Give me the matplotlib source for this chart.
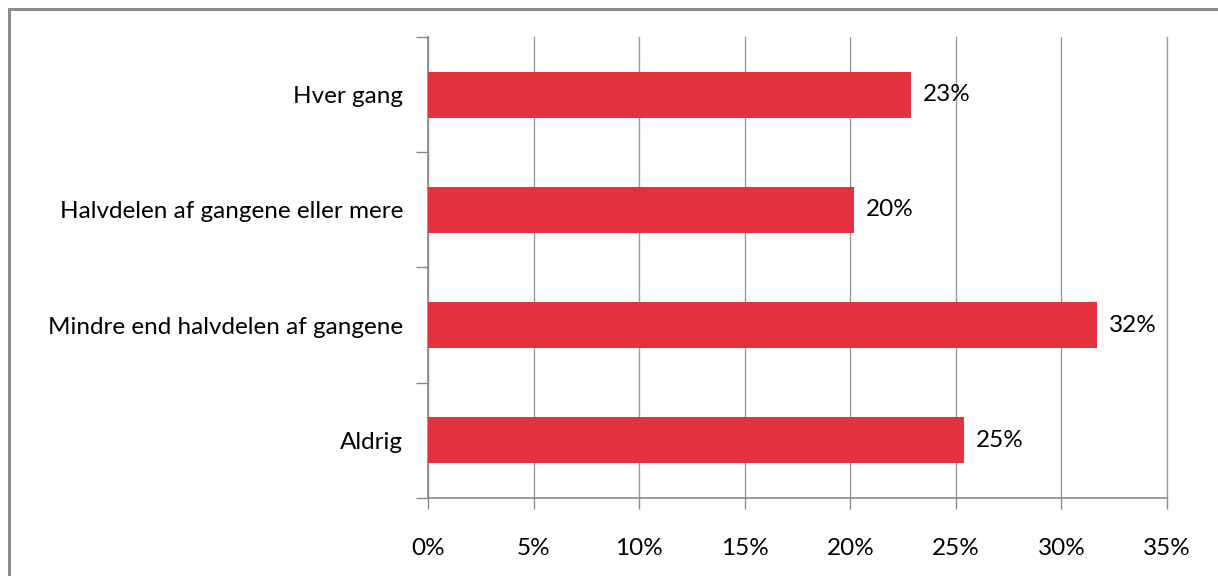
import matplotlib.pyplot as plt
from matplotlib.patches import Rectangle
from matplotlib.ticker import MultipleLocator, FuncFormatter

# data
#
categories = ['Hver gang', 'Halvdelen af gangene eller mere',
              'Mindre end halvdelen af gangene', 'Aldrig']
shares = [22.9, 20.2, 31.7, 25.4]

plt.rcParams['font.family'] = ['Lato', 'DejaVu Sans']
fs = 17.5

# plot
#
fig = plt.figure(figsize=(12.18, 5.76), dpi=100)
ax = fig.add_axes([0.3514, 0.1354, 0.6067, 0.8004])

pos = list(range(len(categories)))[::-1]
ax.barh(pos, shares, height=0.4, color='#E3323F', zorder=3)

for p, v in zip(pos, shares):
    ax.text(v + 0.55, p, f'{v:.0f}%', va='center', ha='left', fontsize=fs)

ax.set_xlim(0, 35)
ax.set_ylim(-0.5, 3.5)
ax.xaxis.set_major_locator(MultipleLocator(5))
ax.xaxis.set_major_formatter(FuncFormatter(lambda x, _: f'{x:.0f}%'))
ax.grid(axis='x', color='#9a9a9a', linewidth=1, zorder=0)
for g in ax.get_xgridlines():
    g.set_clip_on(False)

ax.set_yticks([-0.5, 0.5, 1.5, 2.5, 3.5], minor=False)
ax.set_yticklabels([])
ax.set_yticks(pos, minor=True)
ax.set_yticklabels(categories, minor=True)
ax.tick_params(axis='y', which='major', length=9, color='#8a8a8a', width=1)
ax.tick_params(axis='y', which='minor', length=0, pad=18, labelsize=fs)
ax.tick_params(axis='x', length=8, color='#8a8a8a', width=1, pad=21, labelsize=fs)

for side in ['top', 'right']:
    ax.spines[side].set_visible(False)
for side in ['left', 'bottom']:
    ax.spines[side].set_color('#8a8a8a')
    ax.spines[side].set_linewidth(1.2)

# outer frame
#
fig.patches.append(Rectangle((9 / 1218, -0.05), 1.1, (576 - 9) / 576 + 0.05,
                             transform=fig.transFigure, fill=False,
                             edgecolor='#8c8c8c', linewidth=2.2))

# output
#
plt.savefig('out.png', dpi=100)
